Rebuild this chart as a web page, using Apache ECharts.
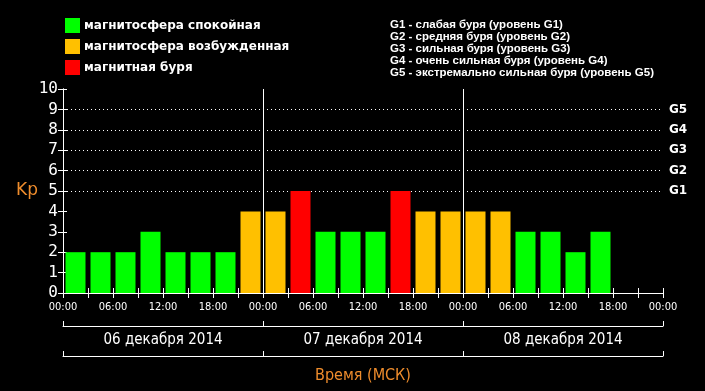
<!DOCTYPE html>
<html><head><meta charset="utf-8">
<script src="https://cdn.jsdelivr.net/npm/echarts@6/dist/echarts.min.js"></script>
<style>html,body{margin:0;padding:0;background:#000}#c{width:705px;height:391px}</style>
</head><body><div id="c"></div>
<script>
// Kp index per 3-hour slot, 6–8 Dec 2014 (null = no data)
const kpValues = [2,2,2,3,2,2,2,4, 4,5,3,3,3,5,4,4, 4,4,3,3,2,3,null,null];
const dayLabels = ['06 декабря 2014','07 декабря 2014','08 декабря 2014'];
const hourLabels = ['00:00','06:00','12:00','18:00'];
const stormLabels = ['G1','G2','G3','G4','G5'];
const legendNames = ['магнитосфера спокойная','магнитосфера возбужденная','магнитная буря'];
const legendColors = ['#00ff00','#ffc000','#ff0000'];
const noteLines = [
  'G1 - слабая буря (уровень G1)',
  'G2 - средняя буря (уровень G2)',
  'G3 - сильная буря (уровень G3)',
  'G4 - очень сильная буря (уровень G4)',
  'G5 - экстремально сильная буря (уровень G5)'
];
const slotHours = 3;
const totalHours = 72;

function level(v){ return v >= 5 ? 2 : (v >= 4 ? 1 : 0); }
const seriesData = [[],[],[]];
kpValues.forEach((v,i)=>{ if(v!==null) seriesData[level(v)].push([i*slotHours+slotHours/2, v]); });

const chart = echarts.init(document.getElementById('c'));
const white = '#ffffff';
const orange = '#ee8c2c';
const cond = '"DejaVu Sans Condensed","Liberation Sans Narrow","Liberation Sans"';
const series = legendNames.map((n,k)=>({
  name:n, type:'bar', xAxisIndex:0, yAxisIndex:0,
  barWidth:20, barGap:'-100%',
  itemStyle:{color:legendColors[k]},
  data:seriesData[k]
}));
series[0].markLine = {
  silent:true, symbol:'none', label:{show:false}, z:1,
  data:[
    ...[5,6,7,8,9].map(y=>({yAxis:y, lineStyle:{color:white,type:[1,3],width:1}})),
    ...[24,48].map(x=>({xAxis:x, lineStyle:{color:white,type:'solid',width:1}}))
  ]
};
chart.setOption({
  backgroundColor:'#000',
  animation:false,
  legend:{
    orient:'vertical', left:60, top:13, itemWidth:15, itemHeight:15, itemGap:6,
    icon:'rect', data:legendNames,
    textStyle:{color:white, fontFamily:'DejaVu Sans', fontSize:12, fontWeight:'bold', padding:[0,0,0,-1]}
  },
  graphic:[{
    type:'text', left:390, top:19,
    style:{text:noteLines.join('\n'), fill:white, font:'bold 11.5px "Liberation Sans"', lineHeight:12}
  }],
  grid:{left:63, right:42, top:89, bottom:98},
  xAxis:[
    {type:'value', position:'bottom', min:0, max:totalHours, interval:slotHours,
      axisLine:{lineStyle:{color:white,width:1}},
      axisTick:{inside:true,length:5,lineStyle:{color:white}},
      splitLine:{show:false},
      axisLabel:{color:white, fontFamily:cond, fontSize:11, margin:9,
        showMinLabel:true, showMaxLabel:true, hideOverlap:false,
        formatter:v=> (v%6===0) ? hourLabels[(v%24)/6] : ''}},
    {type:'value', position:'top', min:0, max:totalHours, interval:slotHours,
      axisLine:{lineStyle:{color:white}},
      axisTick:{inside:true,length:5,lineStyle:{color:white}},
      axisLabel:{show:false}, splitLine:{show:false}},
    {type:'category', position:'bottom', offset:33, data:dayLabels, boundaryGap:true,
      axisLine:{show:true,lineStyle:{color:white}},
      axisTick:{show:true,interval:0,inside:true,length:5,lineStyle:{color:white}},
      axisLabel:{show:false}},
    {type:'category', position:'bottom', offset:63, data:dayLabels, boundaryGap:true,
      axisLine:{show:true,lineStyle:{color:white}},
      axisTick:{show:true,interval:0,inside:true,length:5,lineStyle:{color:white}},
      axisLabel:{inside:true, interval:0, margin:8, color:white, fontFamily:cond, fontSize:15},
      name:'Время (МСК)', nameLocation:'middle', nameGap:12, nameMoveOverlap:false,
      nameTextStyle:{color:orange, fontFamily:cond, fontSize:16}}
  ],
  yAxis:[
    {type:'value', min:0, max:10, interval:1, position:'left',
      axisLine:{show:true,lineStyle:{color:white}},
      axisTick:{show:true,inside:true,length:4,lineStyle:{color:white}},
      splitLine:{show:false},
      axisLabel:{color:white, fontFamily:'"DejaVu Sans Mono"', fontSize:16, margin:5},
      name:'Kp', nameLocation:'middle', nameRotate:0, nameGap:25, nameMoveOverlap:false,
      nameTextStyle:{color:orange, fontFamily:'"DejaVu Sans"', fontSize:17}},
    {type:'value', min:0, max:10, interval:1, position:'right',
      axisLine:{show:true,lineStyle:{color:white}},
      axisTick:{show:true,inside:true,length:5,lineStyle:{color:white}},
      splitLine:{show:false},
      axisLabel:{color:white, fontFamily:'"DejaVu Sans"', fontWeight:'bold', fontSize:12, margin:6,
        formatter:v=> (v>=5 && v<=9) ? stormLabels[v-5] : ''}}
  ],
  series
});
</script></body></html>
